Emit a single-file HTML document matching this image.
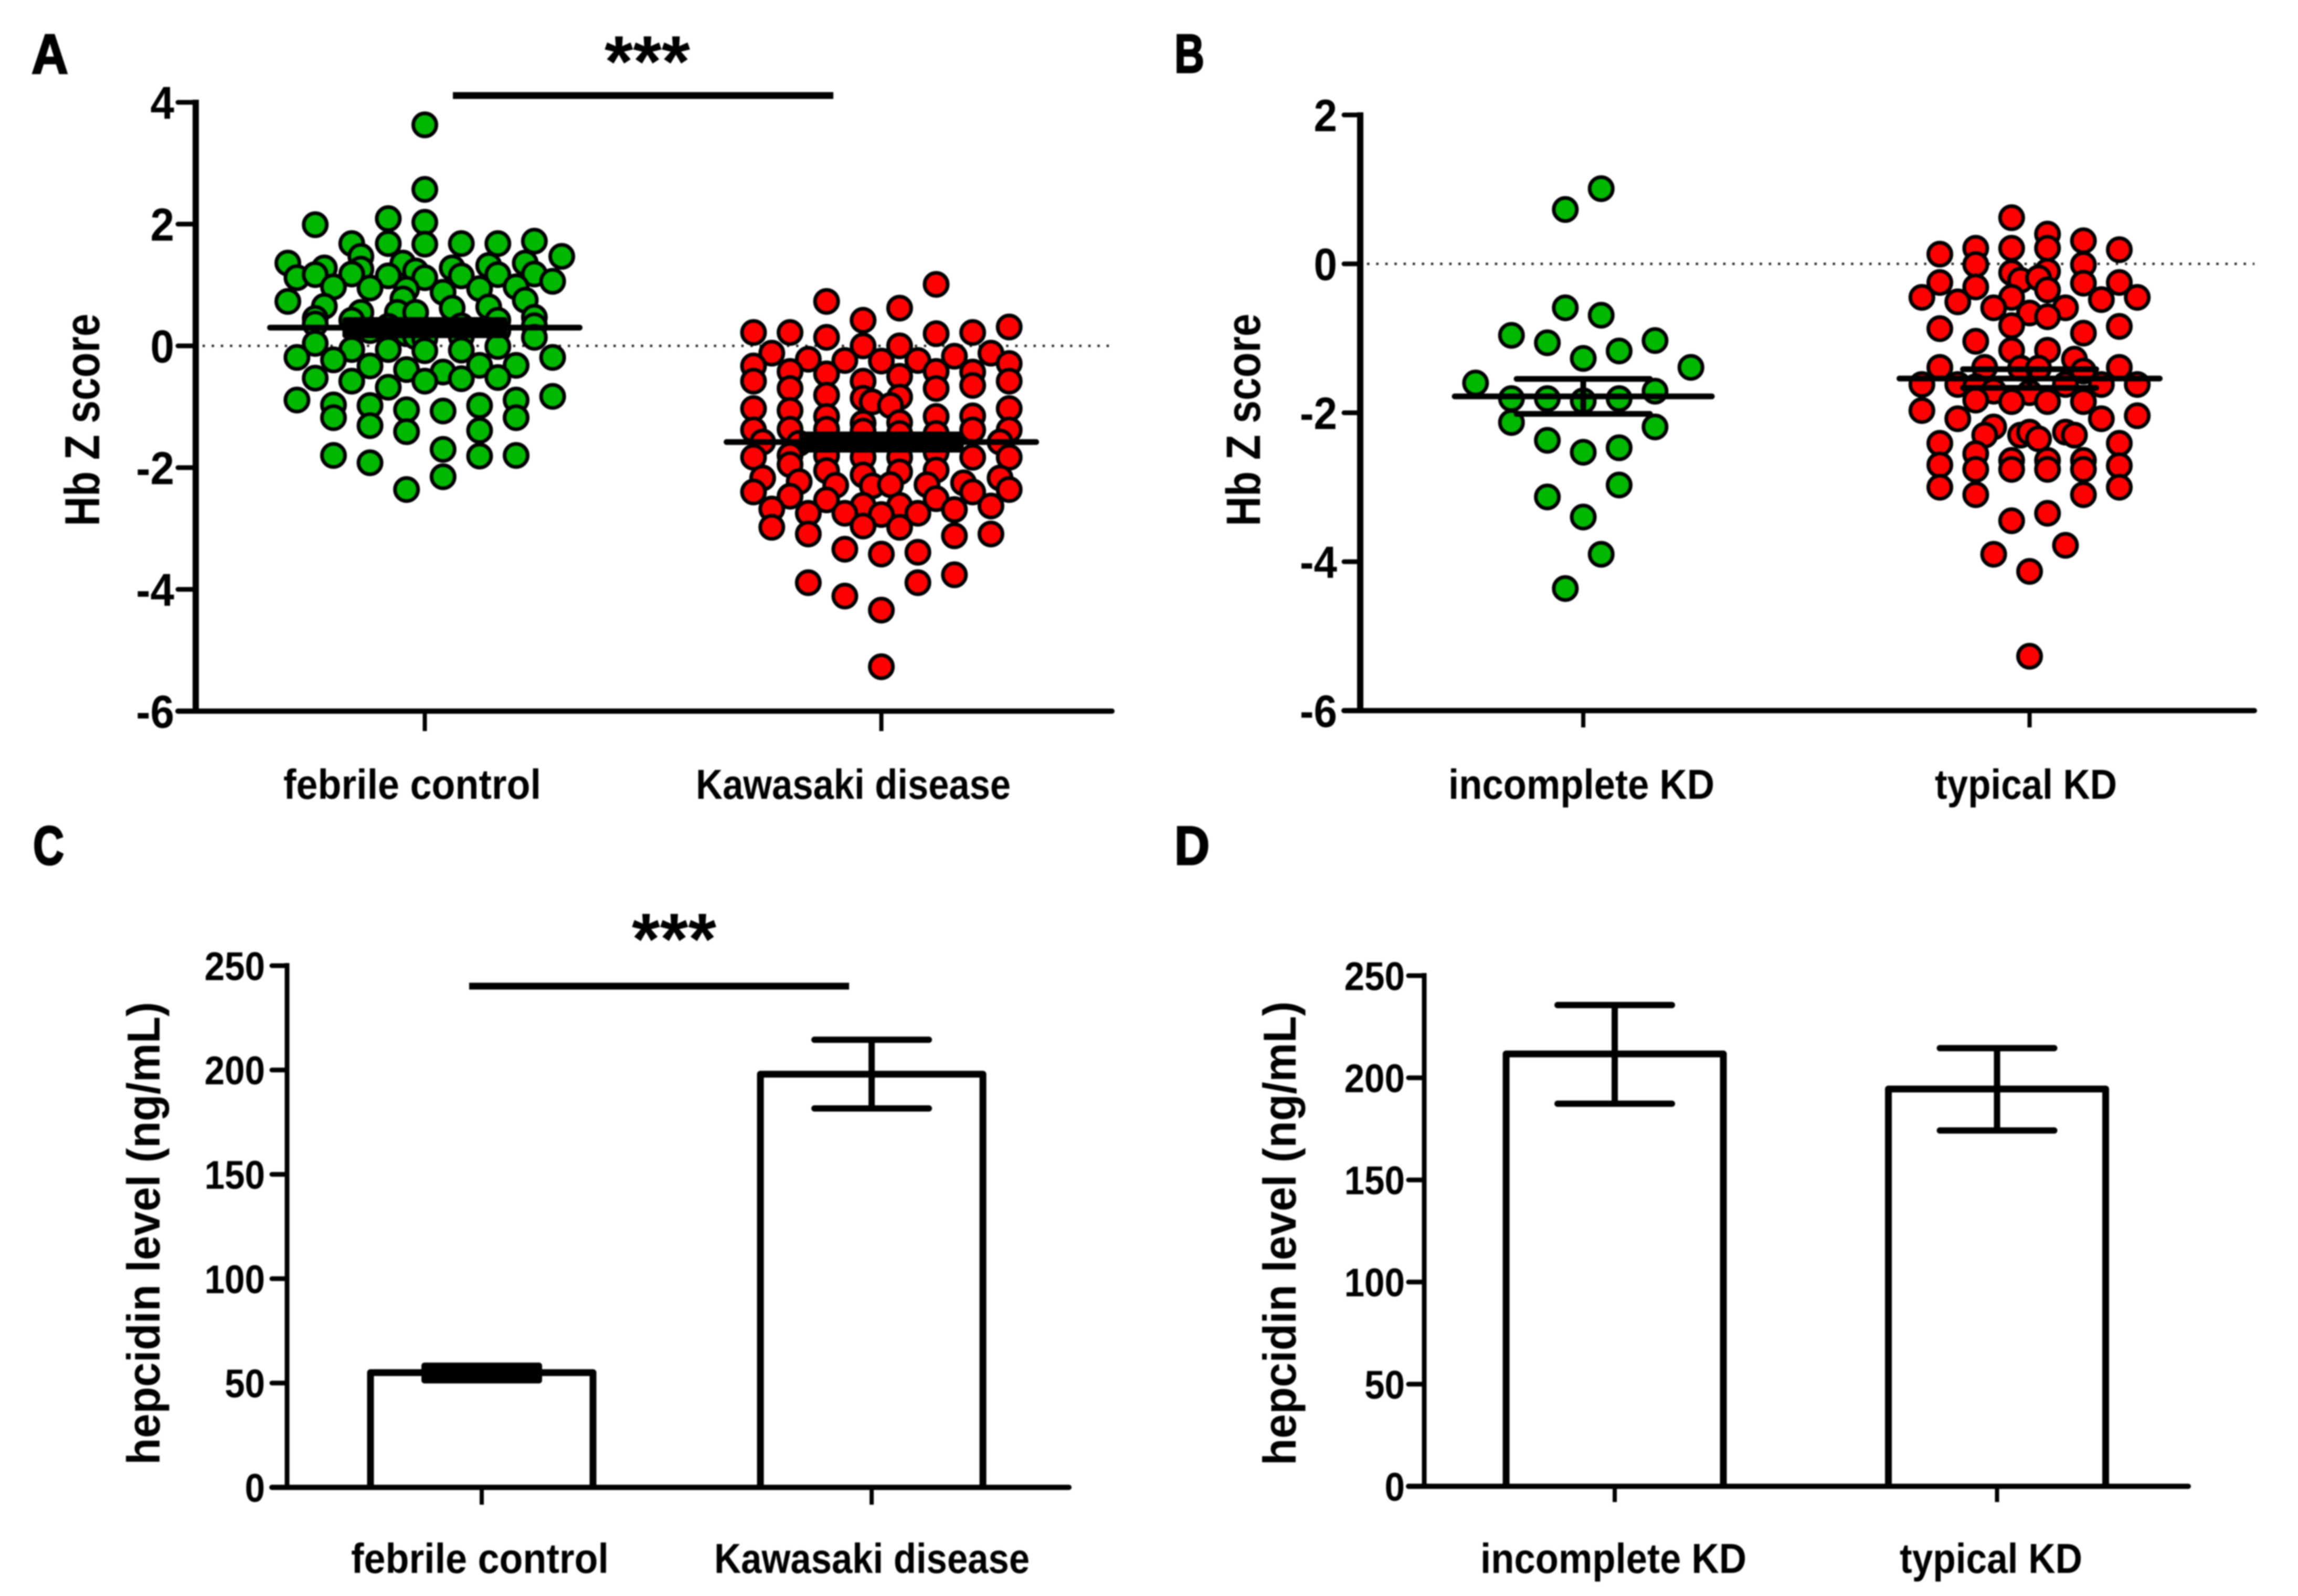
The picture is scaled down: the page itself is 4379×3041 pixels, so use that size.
<!DOCTYPE html>
<html lang="en">
<head>
<meta charset="utf-8">
<title>Hb Z score and hepcidin level charts</title>
<style>
html,body{margin:0;padding:0;background:#fff;width:4379px;height:3041px;overflow:hidden}
svg{display:block;filter:blur(1.2px)}
text{font-family:"Liberation Sans",sans-serif;font-weight:bold;fill:#000}
.panel-letter{stroke:#000;stroke-width:3px}
</style>
</head>
<body>
<svg id="figure" xmlns="http://www.w3.org/2000/svg" width="4379" height="3041" viewBox="0 0 4379 3041">
  <rect width="4379" height="3041" fill="#fff"/>
  <text class="panel-letter" x="60" y="140" font-size="107" textLength="70" lengthAdjust="spacingAndGlyphs">A</text>
  <text class="panel-letter" x="2238" y="138" font-size="104" textLength="57" lengthAdjust="spacingAndGlyphs">B</text>
  <text class="panel-letter" x="63" y="1647" font-size="104" textLength="59" lengthAdjust="spacingAndGlyphs">C</text>
  <text class="panel-letter" x="2238" y="1647" font-size="104" textLength="67" lengthAdjust="spacingAndGlyphs">D</text>

  <text transform="translate(189 800) rotate(-90)" text-anchor="middle" font-size="94" textLength="405" lengthAdjust="spacingAndGlyphs">Hb Z score</text>
  <text transform="translate(2401 800) rotate(-90)" text-anchor="middle" font-size="92" textLength="405" lengthAdjust="spacingAndGlyphs">Hb Z score</text>
  <text transform="translate(304 2350) rotate(-90)" text-anchor="middle" font-size="88" textLength="882" lengthAdjust="spacingAndGlyphs">hepcidin level (ng/mL)</text>
  <text transform="translate(2469 2350) rotate(-90)" text-anchor="middle" font-size="88" textLength="884" lengthAdjust="spacingAndGlyphs">hepcidin level (ng/mL)</text>

  <text x="540" y="1522" font-size="80" textLength="491" lengthAdjust="spacingAndGlyphs">febrile control</text>
  <text x="1326" y="1522" font-size="80" textLength="600" lengthAdjust="spacingAndGlyphs">Kawasaki disease</text>
  <text x="2760" y="1522" font-size="80" textLength="507" lengthAdjust="spacingAndGlyphs">incomplete KD</text>
  <text x="3687" y="1522" font-size="80" textLength="347" lengthAdjust="spacingAndGlyphs">typical KD</text>
  <text x="669" y="2997" font-size="80" textLength="491" lengthAdjust="spacingAndGlyphs">febrile control</text>
  <text x="1361" y="2997" font-size="80" textLength="601" lengthAdjust="spacingAndGlyphs">Kawasaki disease</text>
  <text x="2821" y="2997" font-size="80" textLength="507" lengthAdjust="spacingAndGlyphs">incomplete KD</text>
  <text x="3620" y="2997" font-size="80" textLength="348" lengthAdjust="spacingAndGlyphs">typical KD</text>

  <text x="1152" y="165" font-size="139" textLength="163" lengthAdjust="spacingAndGlyphs">***</text>
  <line x1="863" x2="1588" y1="182" y2="182" stroke="#000" stroke-width="13"/>
  <text x="1204" y="1837" font-size="139" textLength="161" lengthAdjust="spacingAndGlyphs">***</text>
  <line x1="894" x2="1618" y1="1879" y2="1879" stroke="#000" stroke-width="13"/>
</svg>
<script>
// Shared tick labels
const hbTicksA = [4, 2, 0, -2, -4, -6];
const hbTicksB = [2, 0, -2, -4, -6];
const hepcidinTicks = [0, 50, 100, 150, 200, 250];

// Panel A: febrile control (swarm slot, Hb Z score)
const febrileSlot = [0,0,-2,0,-6,0,-2,-4,2,4,6,7.5,-3.5,-1.2,-7.5,5.5,-5.5,-3.5,3.5,1.5,-0.5,-7,-6,-4,-2,2,4,0,6,7,-5,-3,1,3,5,-1,-1.2,5.5,-7.5,-5.5,1.5,3.5,-3.5,-1.5,-0.5,-6,-4,4,6,-6,6,2,-2,0,-3,4,-1,-0.5,0,2,-6,6,4,-4,-2,0,2,-7,-5,7,-3,3,5,-1,1,-6,-4,0,2,4,-2,-7,7,-5,-3,-1,1,3,5,-5,-3,5,-1,3,-5,-3,1,3,5,1,-1];
const febrileHb = [3.63,2.57,2.09,2.03,1.99,1.67,1.68,1.68,1.68,1.68,1.72,1.47,1.47,1.36,1.36,1.36,1.28,1.26,1.32,1.28,1.23,1.12,1.17,1.18,1.15,1.15,1.17,1.12,1.18,1.06,0.97,0.95,0.88,0.94,0.97,0.93,0.77,0.75,0.73,0.65,0.62,0.64,0.55,0.55,0.55,0.45,0.42,0.42,0.47,0.36,0.33,0.33,0.32,0.25,0.25,0.25,0.2,0.15,0.12,0.15,0.04,0.14,-0.01,-0.06,-0.06,-0.08,-0.07,-0.19,-0.23,-0.19,-0.33,-0.32,-0.32,-0.39,-0.43,-0.53,-0.58,-0.58,-0.54,-0.52,-0.68,-0.89,-0.83,-0.97,-0.98,-1.05,-1.07,-0.98,-0.89,-1.18,-1.31,-1.18,-1.41,-1.39,-1.8,-1.92,-1.7,-1.81,-1.8,-2.15,-2.36];

// Panel A: Kawasaki disease (swarm slot, Hb Z score)
const kawasakiSlot = [3,-3,1,-1,7,-7,-5,3,5,-3,-1,1,-6,6,4,-4,-2,0,2,-7,7,-5,3,5,-3,1,-7,-1,7,5,-5,3,-3,1,-1,-0.5,0.5,-7,7,-5,-3,3,5,-1,1,-1,1,-7,7,-5,5,3,-3,-6.5,6.5,-4.5,-7,7,5,-5,-1,1,-3,3,-5,3,-3,1,-1,-6.5,6.5,-4.5,4.5,-2.5,-0.5,0.5,2.5,-7,7,5,-5,-3,3,-1,1,-6,4,6,-4,-2,0,2,-1,1,-6,-4,4,6,-2,2,0,4,-4,2,-2,0,0];
const kawasakiHb = [1.01,0.73,0.62,0.42,0.31,0.22,0.22,0.2,0.22,0.14,0,0,-0.12,-0.12,-0.17,-0.22,-0.24,-0.25,-0.24,-0.33,-0.29,-0.42,-0.42,-0.43,-0.46,-0.5,-0.58,-0.58,-0.58,-0.65,-0.7,-0.7,-0.81,-0.84,-0.86,-0.92,-0.98,-1.03,-1.03,-1.06,-1.16,-1.16,-1.15,-1.27,-1.26,-1.4,-1.44,-1.38,-1.38,-1.37,-1.38,-1.44,-1.37,-1.58,-1.58,-1.6,-1.83,-1.83,-1.83,-1.8,-1.83,-1.83,-1.8,-1.75,-1.95,-2.04,-2.05,-2.07,-2.12,-2.17,-2.17,-2.23,-2.25,-2.29,-2.3,-2.28,-2.28,-2.4,-2.36,-2.4,-2.47,-2.53,-2.51,-2.62,-2.62,-2.68,-2.69,-2.63,-2.75,-2.75,-2.77,-2.75,-2.96,-2.98,-2.98,-3.09,-3.12,-3.09,-3.34,-3.39,-3.42,-3.76,-3.89,-3.89,-4.11,-4.34,-5.27];

// Panel B: incomplete KD (swarm slot, Hb Z score)
const incompleteSlot = [1,-1,-1,1,-4,-2,4,2,0,6,-6,4,-4,-2,0,2,-4,4,-2,2,0,2,-2,0,1,-1];
const incompleteHb = [1.01,0.73,-0.59,-0.69,-0.96,-1.06,-1.03,-1.17,-1.27,-1.39,-1.6,-1.71,-1.81,-1.81,-1.84,-1.81,-2.13,-2.19,-2.37,-2.47,-2.53,-2.97,-3.13,-3.4,-3.9,-4.36];

// Panel B: typical KD (swarm slot, Hb Z score)
const typicalSlot = [-1,1,3,-3,1,-1,-5,5,-3,3,-1,1,-0.5,0.5,-5,3,5,-3,1,-6,6,-1,-4,4,-2,0,2,1,-1,-5,5,3,-3,-1,1,2.5,-2.5,-5,5,-0.5,0.5,3,-6,6,-4,4,-3,-2,0,2,-3,-1,1,3,-6,6,-4,4,-2,-2.5,-0.5,0,0.5,2,2.5,-5,5,-3,-1,1,3,-5,5,-3,-1,1,3,-5,5,-3,3,1,-1,2,-2,0,0];
const typicalHb = [0.62,0.4,0.31,0.21,0.21,0.21,0.13,0.19,-0.01,-0.01,-0.12,-0.1,-0.22,-0.19,-0.25,-0.26,-0.25,-0.31,-0.35,-0.45,-0.45,-0.45,-0.51,-0.48,-0.59,-0.66,-0.59,-0.71,-0.83,-0.87,-0.84,-0.93,-1.04,-1.16,-1.16,-1.28,-1.39,-1.39,-1.39,-1.4,-1.4,-1.44,-1.62,-1.62,-1.62,-1.62,-1.65,-1.71,-1.73,-1.62,-1.83,-1.85,-1.85,-1.85,-1.97,-2.04,-2.08,-2.08,-2.19,-2.3,-2.3,-2.26,-2.35,-2.26,-2.3,-2.41,-2.41,-2.55,-2.64,-2.64,-2.64,-2.7,-2.71,-2.76,-2.76,-2.76,-2.76,-3,-3,-3.1,-3.1,-3.35,-3.45,-3.78,-3.9,-4.13,-5.27];

// Mean and SEM for swarm panels
const hbMeanA = [0.3, -1.58];
const hbSemA = [0.13, 0.13];
const hbMeanB = [-1.78, -1.54];
const hbSemB = [0.235, 0.125];

// Bar panels
const hepcidinMeanC = [55, 198];
const hepcidinUpperC = [58.3, 214.5];
const hepcidinLowerC = [51.3, 181.6];
const hepcidinMeanD = [211.7, 194.5];
const hepcidinUpperD = [235.6, 214.5];
const hepcidinLowerD = [187.3, 174.2];

const svg = document.getElementById('figure');
const NS = 'http://www.w3.org/2000/svg';

function make(tag, attrs) {
  const el = document.createElementNS(NS, tag);
  for (const k in attrs) el.setAttribute(k, attrs[k]);
  svg.appendChild(el);
  return el;
}

function scale(v0, y0, v1, y1) {
  return function (v) { return y0 + (v - v0) * (y1 - y0) / (v1 - v0); };
}

function drawAxes(prefix, cfg, ticks, y) {
  const vAxis = make('line', {x1: cfg.axisX, x2: cfg.axisX, y1: y(cfg.top) - 5, y2: cfg.baseY + 5, stroke: '#000', 'stroke-width': cfg.axisW});
  
  
  const hAxis = make('line', {x1: cfg.tickLeft, x2: cfg.right, y1: cfg.baseY, y2: cfg.baseY, stroke: '#000', 'stroke-width': 10, 'stroke-linecap': 'round'});
  
  
  ticks.forEach(function (t) {
    const py = y(t);
    if (py !== cfg.baseY) {
      const mark = make('line', {x1: cfg.tickLeft, x2: cfg.axisX, y1: py, y2: py, stroke: '#000', 'stroke-width': 9, 'stroke-linecap': 'round'});
      
      
    }
    const label = make('text', {x: cfg.labelRight, y: py + cfg.fontSize * 0.36, 'text-anchor': 'end', 'font-size': cfg.fontSize});
    label.textContent = String(t);
    label.setAttribute('textLength', (label.getComputedTextLength() * cfg.squeeze).toFixed(1));
    label.setAttribute('lengthAdjust', 'spacingAndGlyphs');
    
    
  });
  cfg.centers.forEach(function (cx) {
    const mark = make('line', {x1: cx, x2: cx, y1: cfg.baseY, y2: cfg.tickBottom, stroke: '#000', 'stroke-width': 8});
    
    
  });
}

function drawZeroLine(prefix, x1, x2, py) {
  const zero = make('line', {x1: x1, x2: x2, y1: py, y2: py, stroke: '#222', 'stroke-width': 4.5, 'stroke-dasharray': '4.5 12.9'});
  
  
}

function drawSwarm(prefix, slots, values, cx, slotW, y, color) {
  values.forEach(function (v, i) {
    const dot = make('circle', {cx: cx + slots[i] * slotW, cy: y(v), r: 22, fill: color, stroke: '#000', 'stroke-width': 7});
    
    
  });
}

function drawError(prefix, cx, capHalf, py0, py1, solid, w) {
  if (solid) {
    const band = make('rect', {x: cx - capHalf, y: py0, width: capHalf * 2, height: py1 - py0, fill: '#000', stroke: '#000', 'stroke-width': w, 'stroke-linejoin': 'round'});
    
    
    return;
  }
  const stem = make('line', {x1: cx, x2: cx, y1: py0, y2: py1, stroke: '#000', 'stroke-width': w});
  
  
  [py0, py1].forEach(function (py) {
    const cap = make('line', {x1: cx - capHalf, x2: cx + capHalf, y1: py, y2: py, stroke: '#000', 'stroke-width': w, 'stroke-linecap': 'round'});
    
    
  });
}

function drawMean(prefix, cx, half, py) {
  const mean = make('line', {x1: cx - half, x2: cx + half, y1: py, y2: py, stroke: '#000', 'stroke-width': 11, 'stroke-linecap': 'round'});
  
  
}

function drawBar(prefix, cx, half, py, baseY) {
  const bar = make('path', {d: 'M' + (cx - half) + ' ' + baseY + 'V' + py + 'H' + (cx + half) + 'V' + baseY, fill: '#fff', stroke: '#000', 'stroke-width': 13, 'stroke-linejoin': 'round'});
  
  
}

/* Panel A */
const cfgA = {axisX: 373, axisW: 12, tickLeft: 339, right: 2119, baseY: 1355, tickBottom: 1393, labelRight: 332, fontSize: 88, squeeze: 0.93, top: 4, centers: [809.5, 1679.5]};
const yA = scale(4, 195, -6, 1355);
drawZeroLine('panel-a', 386, 2119, yA(0));
drawSwarm('febrile-control', febrileSlot, febrileHb, cfgA.centers[0], 34.8, yA, '#00b800');
drawSwarm('kawasaki-disease', kawasakiSlot, kawasakiHb, cfgA.centers[1], 34.8, yA, '#ff0000');
cfgA.centers.forEach(function (cx, i) {
  drawMean('panel-a-group-' + (i + 1), cx, 295, yA(hbMeanA[i]));
  drawError('panel-a-group-' + (i + 1), cx, 152, yA(hbMeanA[i] + hbSemA[i]), yA(hbMeanA[i] - hbSemA[i]), true, 10);
});
drawAxes('panel-a', cfgA, hbTicksA, yA);

/* Panel B */
const cfgB = {axisX: 2592, axisW: 12, tickLeft: 2561, right: 4296, baseY: 1354, tickBottom: 1386, labelRight: 2548, fontSize: 86, squeeze: 0.93, top: 2, centers: [3017, 3867.5]};
const yB = scale(2, 219, -6, 1354);
drawZeroLine('panel-b', 2605, 4296, yB(0));
drawSwarm('incomplete-kd', incompleteSlot, incompleteHb, cfgB.centers[0], 34.2, yB, '#00b800');
drawSwarm('typical-kd', typicalSlot, typicalHb, cfgB.centers[1], 34.2, yB, '#ff0000');
drawMean('panel-b-group-1', cfgB.centers[0], 245, yB(hbMeanB[0]));
drawError('panel-b-group-1', cfgB.centers[0], 127, yB(hbMeanB[0] + hbSemB[0]), yB(hbMeanB[0] - hbSemB[0]), false, 11);
drawMean('panel-b-group-2', cfgB.centers[1], 248, yB(hbMeanB[1]));
drawError('panel-b-group-2', cfgB.centers[1], 127, yB(hbMeanB[1] + hbSemB[1]), yB(hbMeanB[1] - hbSemB[1]), false, 11);
drawAxes('panel-b', cfgB, hbTicksB, yB);

/* Panel C */
const cfgC = {axisX: 547, axisW: 9, tickLeft: 518, right: 2037, baseY: 2834, tickBottom: 2867, labelRight: 505, fontSize: 76, squeeze: 0.91, top: 250, centers: [918, 1661]};
const yC = scale(0, 2834, 250, 1840);
cfgC.centers.forEach(function (cx, i) {
  drawBar('panel-c-group-' + (i + 1), cx, 212, yC(hepcidinMeanC[i]), cfgC.baseY);
});
drawError('panel-c-group-1', cfgC.centers[0], 109, yC(hepcidinUpperC[0]), yC(hepcidinLowerC[0]), true, 12);
drawError('panel-c-group-2', cfgC.centers[1], 109, yC(hepcidinUpperC[1]), yC(hepcidinLowerC[1]), false, 12);
drawAxes('panel-c', cfgC, hepcidinTicks, yC);

/* Panel D */
const cfgD = {axisX: 2714, axisW: 9, tickLeft: 2684, right: 4170, baseY: 2832, tickBottom: 2862, labelRight: 2677, fontSize: 76, squeeze: 0.91, top: 250, centers: [3077, 3805.5]};
const yD = scale(0, 2832, 250, 1859);
cfgD.centers.forEach(function (cx, i) {
  drawBar('panel-d-group-' + (i + 1), cx, 207, yD(hepcidinMeanD[i]), cfgD.baseY);
  drawError('panel-d-group-' + (i + 1), cx, 109, yD(hepcidinUpperD[i]), yD(hepcidinLowerD[i]), false, 12);
});
drawAxes('panel-d', cfgD, hepcidinTicks, yD);
</script>
</body>
</html>
